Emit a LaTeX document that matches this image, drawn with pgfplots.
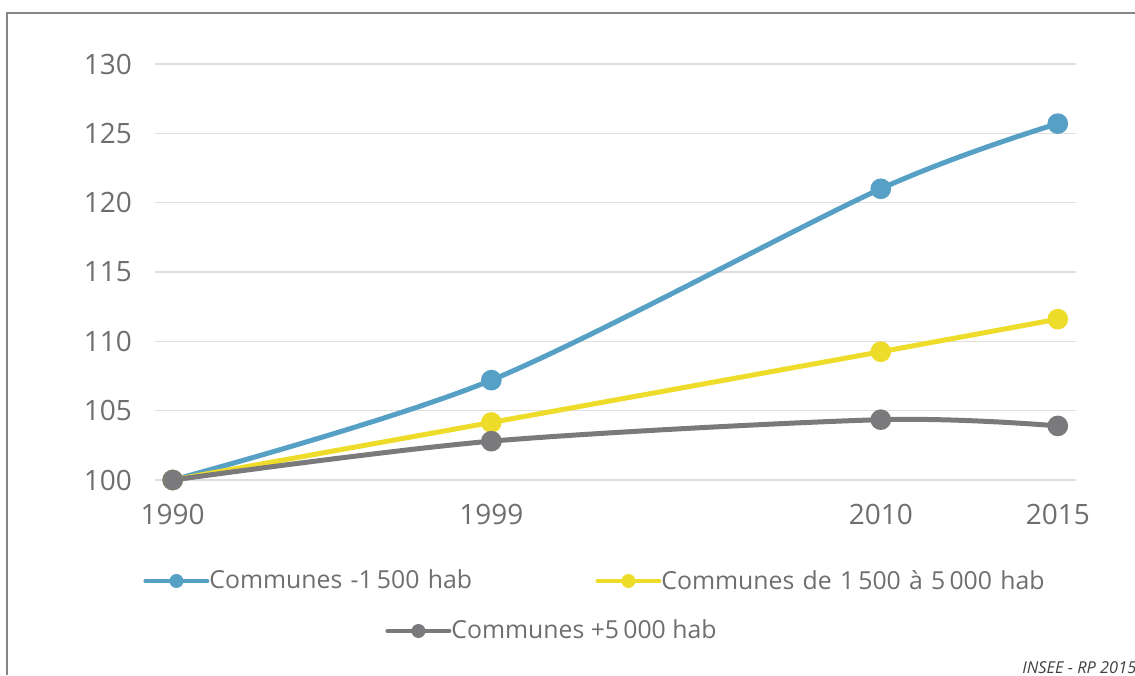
\documentclass[border=0pt]{standalone}
\usepackage{fontspec}
\setmainfont{Open Sans}
\usepackage{pgfplots}
\pgfplotsset{compat=1.18}
\definecolor{cblue}{HTML}{56A0C6}
\definecolor{cyellow}{HTML}{EEDC2A}
\definecolor{cgray}{HTML}{7A7A7C}
\definecolor{ctext}{HTML}{6E6E6E}
\definecolor{cgrid}{HTML}{DEDEDE}
\definecolor{cframe}{HTML}{858585}
\pgfplotsset{
  mylegimg/.style={legend image code/.code={
    \draw[##1,line width=2pt,line cap=round] (0pt,0pt) -- (31pt,0pt);
    \fill[##1,draw=none] (15.5pt,0pt) circle (3.5pt);
  }},
}
\begin{document}
\begin{tikzpicture}
\useasboundingbox (0,0) rectangle (567.5pt,337.5pt);
\draw[cframe,line width=1pt] (3.25pt,0pt) -- (3.25pt,330.75pt) -- (567.5pt,330.75pt);
\begin{axis}[
  at={(77.5pt,97.5pt)}, anchor=south west,
  scale only axis, width=460.25pt, height=208pt,
  xmin=1989.5, xmax=2015.5, ymin=100, ymax=130,
  xtick={1990,1999,2010,2015}, ytick={100,105,...,130},
  axis line style={draw=none}, major tick length=0pt,
  ymajorgrids, grid style={cgrid,line width=0.8pt},
  clip=false,
  /pgf/number format/1000 sep={},
  /pgf/number format/assume math mode=true,
  tick label style={font=\fontsize{14}{16}\selectfont, text=ctext},
  yticklabel style={xshift=-8pt},
  xticklabel style={yshift=-8.5pt},
  every axis plot/.append style={line width=2.5pt, smooth, tension=0.5, mark=*, mark size=3.9pt},
  legend columns=2,
  legend cell align=left,
  legend style={at={(-0.013,-0.2428)}, anchor=west, draw=none, fill=none, inner sep=0pt,
    column sep=0pt,
    nodes={text width=193pt, inner xsep=0pt, inner ysep=2pt, font=\fontsize{12.4}{15}\selectfont, text=ctext}},
  mylegimg,
]
\addplot[cblue, mark options={fill=cblue, draw=none}] coordinates {(1990,100) (1999,107.2) (2010,121.0) (2015,125.7)};
\addlegendentry{Communes -1\,500 hab}
\addplot[cyellow, mark options={fill=cyellow, draw=none}] coordinates {(1990,100) (1999,104.15) (2010,109.25) (2015,111.6)};
\addlegendentry{\mbox{Communes de 1\,500 à 5\,000 hab}}
\addplot[cgray, mark options={fill=cgray, draw=none}] coordinates {(1990,100) (1999,102.8) (2010,104.35) (2015,103.9)};
\end{axis}
\begin{axis}[
  at={(77.5pt,97.5pt)}, anchor=south west,
  scale only axis, width=460.25pt, height=208pt,
  xmin=1989.5, xmax=2015.5, ymin=100, ymax=130,
  hide axis,
  legend style={at={(0.2499,-0.363)}, anchor=west, draw=none, fill=none, inner sep=0pt,
    nodes={inner xsep=0pt, inner ysep=2pt, font=\fontsize{12.4}{15}\selectfont, text=ctext}},
  mylegimg,
]
\addlegendimage{cgray}
\addlegendentry{Communes +5\,000 hab}
\end{axis}
\node[anchor=base west, font=\fontsize{8.2}{10}\selectfont\itshape, text=black!75, inner sep=0pt] at (511pt,1.0pt) {INSEE - RP 2015};
\end{tikzpicture}
\end{document}
